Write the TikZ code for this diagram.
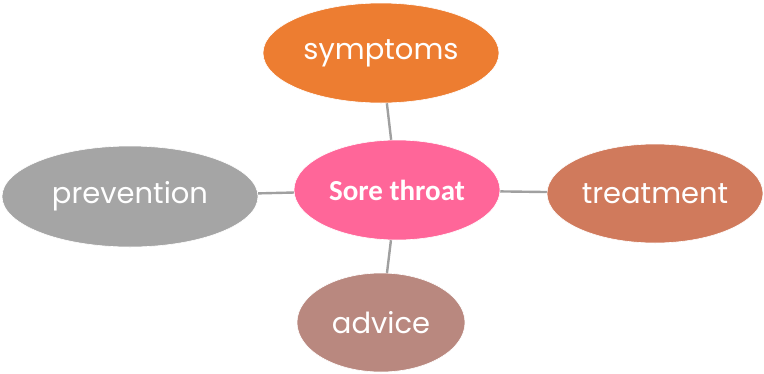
\documentclass[tikz,border=0pt]{standalone}
\usepackage{fontspec}
\setmainfont{Poppins}
\newfontfamily\boldfont{Carlito}
\usetikzlibrary{shapes.geometric}
\definecolor{cSym}{HTML}{ED7D31}
\definecolor{cSore}{HTML}{FF6699}
\definecolor{cTreat}{HTML}{D07A5C}
\definecolor{cPrev}{HTML}{A5A5A5}
\definecolor{cAdv}{HTML}{B9887F}
\definecolor{cLine}{HTML}{A0A0A0}
\tikzset{
  bubble/.style={ellipse, draw=white, line width=0.6pt, inner sep=0pt, text=white,
    font=\fontsize{29}{29}\selectfont},
  link/.style={draw=cLine, line width=2.4pt}
}
\begin{document}
\begin{tikzpicture}[x=1pt,y=-1pt]
\useasboundingbox (0,0) rectangle (764,373);
\node[bubble, fill=cSore, minimum width=206pt, minimum height=100pt, font=\boldfont\bfseries\fontsize{29}{29}\selectfont] (core) at (397,190) {Sore throat};
\node[bubble, fill=cSym, minimum width=236pt, minimum height=100pt] (sym) at (381,53) {symptoms};
\node[bubble, fill=cTreat, minimum width=216pt, minimum height=99pt] (treat) at (655,193.5) {treatment};
\node[bubble, fill=cPrev, minimum width=256pt, minimum height=101pt] (prev) at (130,196.5) {prevention};
\node[bubble, fill=cAdv, minimum width=168pt, minimum height=99pt] (adv) at (381,322.5) {advice};
\draw[link] (sym) -- (core);
\draw[link] (core) -- (treat);
\draw[link] (core) -- (prev);
\draw[link] (core) -- (adv);
\end{tikzpicture}
\end{document}
